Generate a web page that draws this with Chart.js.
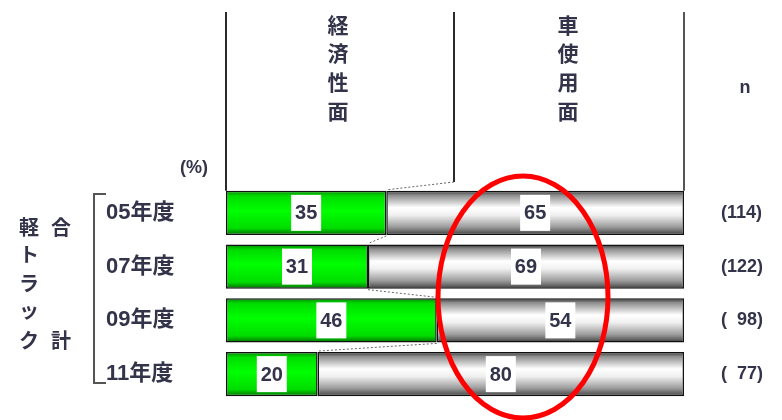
<!DOCTYPE html>
<html lang="ja">
<head>
<meta charset="utf-8">
<title>軽トラック 購入重視点</title>
<script src="https://cdn.jsdelivr.net/npm/chart.js@4.4.1/dist/chart.umd.min.js"></script>
<style>
  html, body { margin: 0; padding: 0; background: #fff; }
  #chart { display: block; }
</style>
</head>
<body>
<canvas id="chart" width="782" height="420"></canvas>
<script>
// 年度別の回答比率（%）
const years = ['05年度', '07年度', '09年度', '11年度'];
const economyShare = [35, 31, 46, 20];   // 経済性面
const usageShare = [65, 69, 54, 80];     // 車使用面
const sampleSizes = ['(114)', '(122)', '(  98)', '(  77)'];
const headerLabels = ['経済性面', '車使用面'];
const groupLeft = ['軽', 'ト', 'ラ', 'ッ', 'ク'];
const groupRight = ['合', '計'];

const TEXT = '#33334a';
const JP = '"Liberation Sans", "Noto Sans CJK JP", sans-serif';
const BAR_PCT = 0.82;

function barBounds(chart, index) {
  const y = chart.scales.y;
  const step = Math.abs(y.getPixelForValue(1) - y.getPixelForValue(0));
  const half = step * BAR_PCT / 2;
  const c = y.getPixelForValue(index);
  return { top: c - half, bottom: c + half, center: c };
}

function greenFill(context) {
  const chart = context.chart;
  if (!chart.chartArea) return '#00ee00';
  const b = barBounds(chart, context.dataIndex);
  const g = chart.ctx.createLinearGradient(0, b.top, 0, b.bottom);
  g.addColorStop(0, '#008a00');
  g.addColorStop(0.12, '#00dd00');
  g.addColorStop(0.45, '#00ff00');
  g.addColorStop(0.85, '#00dc00');
  g.addColorStop(1, '#006e00');
  return g;
}

function grayFill(context) {
  const chart = context.chart;
  if (!chart.chartArea) return '#cccccc';
  const b = barBounds(chart, context.dataIndex);
  const g = chart.ctx.createLinearGradient(0, b.top, 0, b.bottom);
  g.addColorStop(0, '#343434');
  g.addColorStop(0.1, '#8e8e8e');
  g.addColorStop(0.38, '#ffffff');
  g.addColorStop(0.55, '#f0f0f0');
  g.addColorStop(0.82, '#9c9c9c');
  g.addColorStop(0.94, '#606060');
  g.addColorStop(1, '#2a2a2a');
  return g;
}

const decorations = {
  id: 'decorations',
  afterDatasetsDraw(chart) {
    const ctx = chart.ctx;
    const xs = chart.scales.x;
    const left = xs.getPixelForValue(0);
    const right = xs.getPixelForValue(100);
    const firstTop = barBounds(chart, 0).top;
    const split0 = xs.getPixelForValue(economyShare[0]);
    const midX = 454;

    ctx.save();

    // 見出し枠の縦線
    ctx.strokeStyle = '#2a2a2a';
    ctx.lineWidth = 2;
    ctx.beginPath();
    ctx.moveTo(left, 12); ctx.lineTo(left, firstTop);
    ctx.moveTo(midX, 12); ctx.lineTo(midX, 182);
    ctx.stroke();
    ctx.strokeStyle = '#555';
    ctx.beginPath();
    ctx.moveTo(right, 12); ctx.lineTo(right, firstTop);
    ctx.stroke();

    // 区切りをつなぐ点線
    ctx.strokeStyle = '#666';
    ctx.lineWidth = 1;
    ctx.setLineDash([2, 2]);
    ctx.beginPath();
    ctx.moveTo(midX, 182); ctx.lineTo(split0, firstTop - 1);
    for (let i = 0; i < years.length - 1; i++) {
      const a = barBounds(chart, i);
      const b = barBounds(chart, i + 1);
      ctx.moveTo(xs.getPixelForValue(economyShare[i]), a.bottom + 1);
      ctx.lineTo(xs.getPixelForValue(economyShare[i + 1]), b.top - 1);
    }
    ctx.stroke();
    ctx.setLineDash([]);

    // 縦書きの見出し
    ctx.fillStyle = TEXT;
    ctx.textAlign = 'center';
    ctx.textBaseline = 'middle';
    ctx.font = 'bold 21px ' + JP;
    const headX = [338, 568];
    headerLabels.forEach((label, k) => {
      [...label].forEach((ch, j) => ctx.fillText(ch, headX[k], 27 + j * 28.7));
    });

    ctx.font = 'bold 18px ' + JP;
    ctx.fillText('(%)', 194, 168);
    ctx.fillText('n', 745, 88);

    // 年度ラベルと n
    years.forEach((label, i) => {
      const b = barBounds(chart, i);
      ctx.textAlign = 'left';
      ctx.font = 'bold 22px ' + JP;
      ctx.fillText(label, 106, b.center);
      ctx.font = 'bold 18px ' + JP;
      ctx.fillText(sampleSizes[i], 721, b.center);
    });

    // 括弧
    ctx.strokeStyle = '#555';
    ctx.lineWidth = 2;
    ctx.beginPath();
    ctx.moveTo(106, 194); ctx.lineTo(94, 194); ctx.lineTo(94, 383); ctx.lineTo(106, 383);
    ctx.stroke();

    // 左側の縦書きラベル
    ctx.textAlign = 'center';
    ctx.font = 'bold 20px ' + JP;
    const leftY = [229, 256, 285, 312, 342];
    groupLeft.forEach((ch, j) => ctx.fillText(ch, 29, leftY[j]));
    ctx.fillText(groupRight[0], 61, 229);
    ctx.fillText(groupRight[1], 61, 342);

    // 値ラベル（白地）
    ctx.font = 'bold 20px ' + JP;
    [economyShare, usageShare].forEach((series, d) => {
      series.forEach((v, i) => {
        const start = d === 0 ? 0 : economyShare[i];
        const cx = xs.getPixelForValue(start + v / 2);
        const b = barBounds(chart, i);
        ctx.fillStyle = '#ffffff';
        ctx.fillRect(cx - 15, b.center - 18, 30, 36);
        ctx.fillStyle = TEXT;
        ctx.fillText(String(v), cx, b.center + 1);
      });
    });

    // 強調の赤い楕円
    ctx.strokeStyle = '#ff0000';
    ctx.lineWidth = 5;
    ctx.beginPath();
    ctx.ellipse(523, 297, 85, 121, 0, 0, Math.PI * 2);
    ctx.stroke();

    ctx.restore();
  }
};

new Chart(document.getElementById('chart'), {
  type: 'bar',
  data: {
    labels: years,
    datasets: [
      {
        label: '経済性面',
        data: economyShare,
        backgroundColor: greenFill,
        borderColor: '#111',
        borderWidth: 1.5,
        borderSkipped: false
      },
      {
        label: '車使用面',
        data: usageShare,
        backgroundColor: grayFill,
        borderColor: '#111',
        borderWidth: 1.5,
        borderSkipped: false
      }
    ]
  },
  options: {
    indexAxis: 'y',
    responsive: false,
    animation: false,
    devicePixelRatio: 1,
    layout: { padding: { left: 226, right: 98, top: 186, bottom: 19 } },
    datasets: { bar: { barPercentage: BAR_PCT, categoryPercentage: 1 } },
    scales: {
      x: { stacked: true, min: 0, max: 100, display: false },
      y: { stacked: true, display: false }
    },
    plugins: {
      legend: { display: false },
      tooltip: { enabled: false }
    }
  },
  plugins: [decorations]
});
</script>
</body>
</html>
